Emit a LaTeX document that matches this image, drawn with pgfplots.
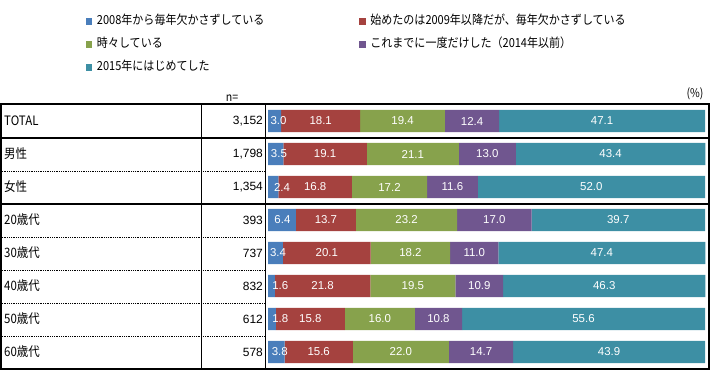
\documentclass[border=0pt]{standalone}
\usepackage{fontspec}
\setmainfont{Liberation Sans}
\newfontfamily\jp[FakeStretch=0.885]{Noto Sans CJK JP}
\usepackage{pgfplots}
\pgfplotsset{compat=1.18}
\definecolor{c1}{HTML}{4A7EBB}
\definecolor{c2}{HTML}{A5423F}
\definecolor{c3}{HTML}{87A24C}
\definecolor{c4}{HTML}{70568F}
\definecolor{c5}{HTML}{3D8FA4}
\pgfplotsset{
  frame/.style={at={(268bp,1.5bp)}, anchor=south west,
    scale only axis, width=437bp, height=264bp,
    xmin=0, xmax=100, ymin=-0.5, ymax=7.5, y dir=reverse, clip=false},
  lbl/.style={draw=none, mark=none, point meta=explicit symbolic, nodes near coords,
    every node near coord/.append style={anchor=center, text=white, inner sep=0pt,
      font=\fontsize{11.5}{12}\selectfont}}
}
\begin{document}
\begin{tikzpicture}
\useasboundingbox (0bp,0bp) rectangle (714bp,370bp);
\begin{axis}[
  frame,
  xbar stacked, bar width=0.68,
  axis line style={draw=none},
  xtick=\empty,
  ytick={0,...,7},
  yticklabels={TOTAL,男性,女性,20歳代,30歳代,40歳代,50歳代,60歳代},
  yticklabel style={anchor=west, inner sep=0pt, xshift=-264bp, font=\jp\fontsize{13}{13}\selectfont},
  major tick length=0pt,
  legend columns=2,
  legend style={at={(-0.4165,1.3409)}, anchor=north west, draw=none, fill=none,
    inner sep=0pt, outer sep=0pt, font=\jp\fontsize{12.5}{13}\selectfont,
    row sep=9bp, column sep=0bp,
    /tikz/every odd column/.append style={column sep=2.5bp},
    /tikz/every even column/.append style={column sep=93bp},
    nodes={inner sep=2bp, text height=8bp, text depth=2bp}},
  legend cell align=left,
  legend image code/.code={\fill[#1] (0bp,-3.25bp) rectangle (6.5bp,3.25bp);},
]
\addplot[fill=c1, draw=none] coordinates {(3.0,0) (3.5,1) (2.4,2) (6.4,3) (3.4,4) (1.6,5) (1.8,6) (3.8,7)};
\addlegendentry{2008年から毎年欠かさずしている}
\addplot[fill=c2, draw=none] coordinates {(18.1,0) (19.1,1) (16.8,2) (13.7,3) (20.1,4) (21.8,5) (15.8,6) (15.6,7)};
\addlegendentry{始めたのは2009年以降だが、毎年欠かさずしている}
\addplot[fill=c3, draw=none] coordinates {(19.4,0) (21.1,1) (17.2,2) (23.2,3) (18.2,4) (19.5,5) (16.0,6) (22.0,7)};
\addlegendentry{時々している}
\addplot[fill=c4, draw=none] coordinates {(12.4,0) (13.0,1) (11.6,2) (17.0,3) (11.0,4) (10.9,5) (10.8,6) (14.7,7)};
\addlegendentry{これまでに一度だけした（2014年以前）}
\addplot[fill=c5, draw=none] coordinates {(47.1,0) (43.4,1) (52.0,2) (39.7,3) (47.4,4) (46.3,5) (55.6,6) (43.9,7)};
\addlegendentry{2015年にはじめてした}
\end{axis}
\begin{axis}[frame, hide axis]
\addplot[lbl] coordinates {(2.4,0) [3.0] (2.5,1) [3.5] (3.2,2) [2.4] (3.3,3) [6.4] (2.3,4) [3.4] (2.8,5) [1.6] (2.8,6) [1.8] (2.7,7) [3.8]};
\addplot[lbl] coordinates {(12.05,0) [18.1] (13.05,1) [19.1] (10.8,2) [16.8] (13.25,3) [13.7] (13.45,4) [20.1] (12.5,5) [21.8] (9.7,6) [15.8] (11.6,7) [15.6]};
\addplot[lbl] coordinates {(30.8,0) [19.4] (33.15,1) [21.1] (27.8,2) [17.2] (31.7,3) [23.2] (32.6,4) [18.2] (33.15,5) [19.5] (25.6,6) [16.0] (30.4,7) [22.0]};
\addplot[lbl] coordinates {(46.7,0) [12.4] (50.2,1) [13.0] (42.2,2) [11.6] (51.8,3) [17.0] (47.2,4) [11.0] (48.35,5) [10.9] (39.0,6) [10.8] (48.75,7) [14.7]};
\addplot[lbl] coordinates {(76.45,0) [47.1] (78.4,1) [43.4] (74.0,2) [52.0] (80.15,3) [39.7] (76.4,4) [47.4] (76.95,5) [46.3] (72.2,6) [55.6] (78.05,7) [43.9]};
\end{axis}
\begin{scope}[x=1bp,y=1bp]
\foreach \yy in {199,133,100,67,34} \draw[line width=0.8bp, densely dotted] (0,\yy) -- (265,\yy);
\draw[line width=1bp] (201.5,1.5) -- (201.5,266);
\draw[line width=1bp] (265.5,1.5) -- (265.5,266);
\foreach \yy in {266,232,166,1.5} \draw[line width=2bp] (0,\yy) -- (709.5,\yy);
\draw[line width=2bp] (1,0.5) -- (1,267);
\draw[line width=2bp] (708.5,0.5) -- (708.5,267);
\foreach \v/\yy in {{3,152}/249,{1,798}/215.5,{1,354}/182.5,393/149.5,737/116.5,832/83.5,612/50.5,578/17.5}
  \node[anchor=east, inner sep=0pt, font=\fontsize{12}{12}\selectfont] at (263,\yy) {\v};
\node[inner sep=0pt, font=\jp\fontsize{12}{12}\selectfont] at (232,272) {n=};
\node[inner sep=0pt, font=\jp\fontsize{12}{12}\selectfont] at (695,276.5) {(\%)};
\end{scope}
\end{tikzpicture}
\end{document}
